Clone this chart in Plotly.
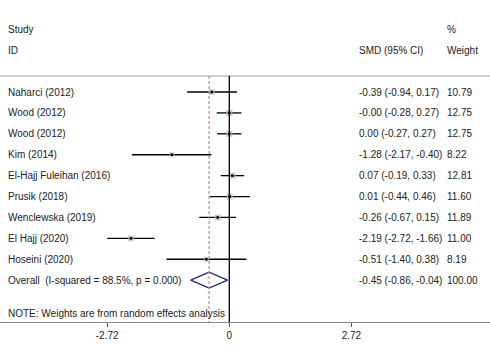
import plotly.graph_objects as go

studies = ["Naharci (2012)", "Wood (2012)", "Wood (2012)", "Kim (2014)",
           "El-Hajj Fuleihan (2016)", "Prusik (2018)", "Wenclewska (2019)",
           "El Hajj (2020)", "Hoseini (2020)"]
smd = [-0.39, -0.00, 0.00, -1.28, 0.07, 0.01, -0.26, -2.19, -0.51]
ci_lo = [-0.94, -0.28, -0.27, -2.17, -0.19, -0.44, -0.67, -2.72, -1.40]
ci_hi = [0.17, 0.27, 0.27, -0.40, 0.33, 0.46, 0.15, -1.66, 0.38]
weights = [10.79, 12.75, 12.75, 8.22, 12.81, 11.60, 11.89, 11.00, 8.19]

overall_label = "Overall  (I-squared = 88.5%, p = 0.000)"
overall_smd = -0.45
overall_lo = -0.86
overall_hi = -0.04
overall_weight = 100.00

tick_vals = [-2.72, 0, 2.72]
tick_text = ["-2.72", "0", "2.72"]

W, H = 490, 362
FONT = "Liberation Sans, Arial, sans-serif"
TXT = "#222222"
FS = 10

n = len(studies)
rows = list(range(n))
overall_row = n
note_row = n + 1.57
top_line_row = -0.766

fig = go.Figure()

# CI whiskers
wx, wy = [], []
for i in rows:
    wx += [ci_lo[i], ci_hi[i], None]
    wy += [i, i, None]
fig.add_trace(go.Scatter(x=wx, y=wy, mode="lines",
                         line=dict(color="black", width=1.3),
                         hoverinfo="skip", showlegend=False))

# weight squares
fig.add_trace(go.Scatter(x=smd, y=rows, mode="markers",
                         marker=dict(symbol="square", color="#bdbdbd",
                                     size=[1.8 * w ** 0.5 for w in weights],
                                     line=dict(width=0)),
                         showlegend=False))
# point estimates
fig.add_trace(go.Scatter(x=smd, y=rows, mode="markers",
                         marker=dict(symbol="square", color="black", size=2.5),
                         showlegend=False))

# overall diamond
h = 0.38
fig.add_trace(go.Scatter(
    x=[overall_lo, overall_smd, overall_hi, overall_smd, overall_lo],
    y=[overall_row, overall_row - h, overall_row, overall_row + h, overall_row],
    mode="lines", line=dict(color="#1b2470", width=1.3),
    hoverinfo="skip", showlegend=False))

shapes = [
    dict(type="line", xref="paper", x0=0, x1=1, yref="y",
         y0=top_line_row, y1=top_line_row,
         line=dict(color="#9a9a9a", width=1)),
    dict(type="line", xref="x", x0=0, x1=0, yref="y",
         y0=top_line_row, y1=11.0, line=dict(color="black", width=1.3)),
    dict(type="line", xref="x", x0=overall_smd, x1=overall_smd, yref="y",
         y0=top_line_row, y1=11.0,
         line=dict(color="#c49090", width=1.3, dash="3px,2px")),
]

ann = []
def txt(xpx, y, s):
    ann.append(dict(xref="paper", x=xpx / W, yref="y", y=y, text=s,
                    showarrow=False, xanchor="left", yanchor="middle",
                    font=dict(family=FONT, size=FS, color=TXT)))

txt(6, -3, "Study")
txt(6, -2, "ID")
txt(445, -3, "%")
txt(357, -2, "SMD (95% CI)")
txt(445, -2, "Weight")

for i in rows:
    txt(6, i, studies[i])
    txt(357, i, f"{smd[i]:.2f} ({ci_lo[i]:.2f}, {ci_hi[i]:.2f})")
    txt(445, i, f"{weights[i]:.2f}")

txt(6, overall_row, overall_label)
txt(357, overall_row, f"{overall_smd:.2f} ({overall_lo:.2f}, {overall_hi:.2f})")
txt(445, overall_row, f"{overall_weight:.2f}")
txt(6, note_row, "NOTE: Weights are from random effects analysis")

x0px = 229.3
scale = 44.9
fig.update_layout(
    width=W, height=H,
    margin=dict(l=0, r=0, t=0, b=40),
    paper_bgcolor="white", plot_bgcolor="white",
    shapes=shapes, annotations=ann,
    xaxis=dict(range=[-x0px / scale, (W - x0px) / scale],
               tickvals=tick_vals, ticktext=tick_text,
               showgrid=False, zeroline=False,
               showline=True, linecolor="#8a8a8a", linewidth=1.2,
               ticks="outside", ticklen=4, tickcolor="#555555",
               tickfont=dict(family=FONT, size=FS, color=TXT)),
    yaxis=dict(range=[11.0, -4.40], visible=False, showgrid=False,
               zeroline=False),
    font=dict(family=FONT, size=FS, color=TXT),
)

fig.write_html("out.html",
               config={"displayModeBar": False},
               post_script="document.body.style.margin='0';"
                           "document.body.style.overflow='hidden';")
